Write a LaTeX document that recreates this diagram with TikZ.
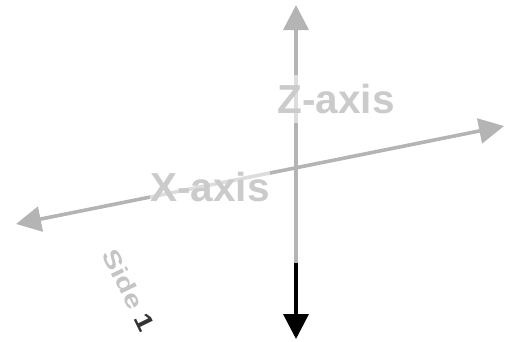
\documentclass[tikz,border=0pt]{standalone}
\usepackage{fontspec}
\setmainfont{Liberation Sans}
\usetikzlibrary{arrows.meta}
\definecolor{axisgray}{HTML}{B4B4B4}
\definecolor{labelgray}{HTML}{CBCBCB}
\definecolor{sidegray}{HTML}{C4C4C4}
\definecolor{sidedark}{HTML}{333333}
\tikzset{
  axisline/.style={line width=3.6pt, draw=axisgray, -{Triangle[length=25pt,width=25pt]}},
  axislabel/.style={font=\fontsize{40.5}{44}\selectfont\bfseries, text=labelgray, fill=white, fill opacity=0.55, text opacity=1, inner sep=0pt, minimum height=48pt},
  sidelabel/.style={font=\fontsize{24}{27}\selectfont\bfseries, rotate=-64, xscale=1.25, transform shape, inner sep=0pt}
}
\begin{document}
\begin{tikzpicture}[x=1pt,y=-1pt]
\useasboundingbox (0,0) rectangle (506,341);
% coordinates
\coordinate (ztop) at (296,5);
\coordinate (zmid) at (296,263);
\coordinate (zbot) at (296,339);
\coordinate (xleft) at (16,224);
\coordinate (xright) at (504,126);
% X axis (double arrow)
\draw[axisline, {Triangle[length=25pt,width=25pt]}-{Triangle[length=25pt,width=25pt]}] (xleft) -- (xright);
% Z axis
\draw[axisline] (zmid) -- (ztop);
\draw[axisline, draw=black, fill=black] (zmid) -- (zbot);
% labels
\node[axislabel] (zlab) at (336,99) {Z-axis};
\node[axislabel] (xlab) at (210,187) {X-axis};
\node[sidelabel, text=sidegray] (side) at (129,290) {Side \textcolor{sidedark}{1}};
\end{tikzpicture}
\end{document}
